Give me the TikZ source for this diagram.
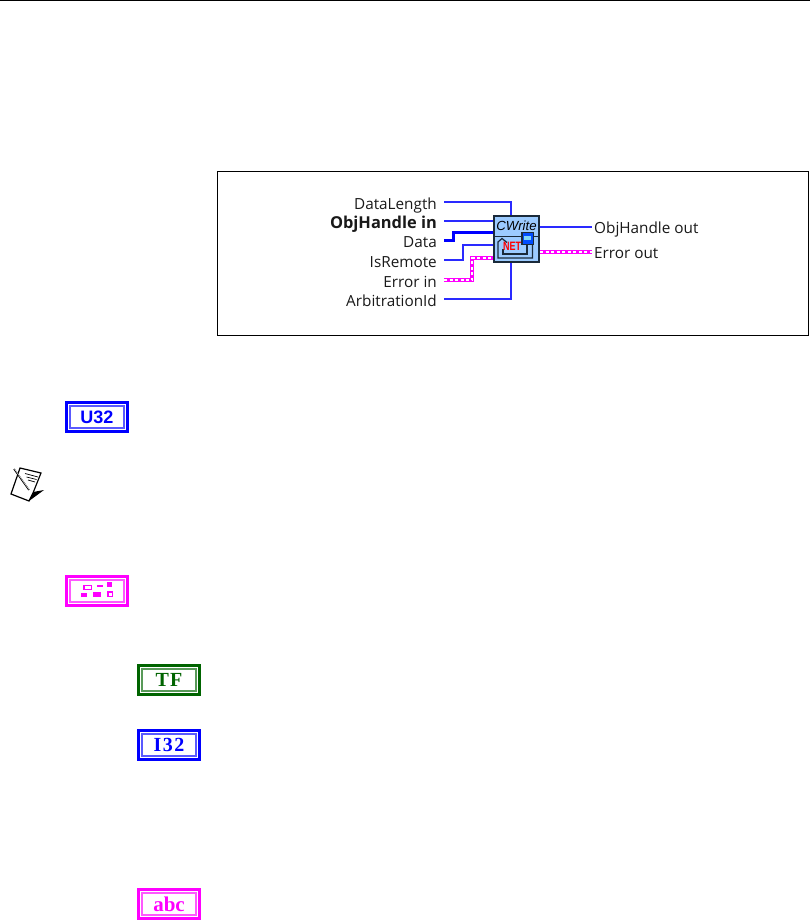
\documentclass[tikz,border=0pt]{standalone}
\usepackage{fontspec}
\setmainfont{Open Sans}
\newfontfamily\iconfont{Liberation Serif}
\newfontfamily\iconsans{Liberation Sans}
\definecolor{wireblue}{HTML}{2A2AFF}
\definecolor{pinkw}{HTML}{FF00FF}
\definecolor{tfgreen}{HTML}{006400}
\definecolor{vifill}{HTML}{9CCBFF}
\definecolor{vidark}{HTML}{1A2A3A}
\tikzset{
  x=1pt,y=-1pt,
  lbl/.style={font=\fontsize{15.3}{16}\selectfont,text=black!90,inner xsep=7pt,inner ysep=0pt,text height=15pt,text depth=0pt},
  inlbl/.style={lbl,anchor=east},
  outlbl/.style={lbl,anchor=west,inner xsep=2pt,text height=13pt},
  bluew/.style={draw=wireblue,line width=1.3pt},
  thickw/.style={draw=blue,line width=3pt},
  pinkbase/.style={draw=pinkw,line width=4.4pt},
  pinkdots/.style={draw=white,line width=1.5pt,dash pattern=on 3pt off 2.5pt},
  icon/.style={draw=#1,line width=3pt,fill=white,minimum width=61pt,minimum height=29pt,inner sep=0pt,text=#1},
  iconin/.style={draw=#1!65,line width=1.2pt},
  vibox/.style={draw=vidark,line width=1.6pt,fill=vifill,minimum width=45.5pt,minimum height=46.5pt,inner sep=0pt},
}
\newcommand{\dtype}[6]{% name, x, y, colour, font, text
  \node[icon=#4] (#1) at (#2,#3) {#5#6};
  \draw[iconin=#4] ([xshift=5pt,yshift=-5pt]#1.north west) rectangle ([xshift=-5pt,yshift=5pt]#1.south east);
}
\begin{document}
\begin{tikzpicture}
\useasboundingbox (0,0) rectangle (810,920);
\fill[white] (0,0) rectangle (810,920);
\coordinate (rl) at (0,0.6);
\coordinate (rr) at (810,0.6);
\draw[black,line width=1.1pt] (rl) -- (rr);
\node[draw=black,line width=0.8pt,minimum width=591pt,minimum height=164pt,inner sep=0pt,anchor=north west] (frame) at (216.8,170.8) {};
% wires first, box over them
\node[inlbl] (a) at (444,202) {DataLength};
\node[inlbl,font=\bfseries\fontsize{16.4}{17}\selectfont] (b) at (444,221) {ObjHandle in};
\node[inlbl] (c) at (444,240) {Data};
\node[inlbl] (d) at (444,260) {IsRemote};
\node[inlbl] (e) at (444,280) {Error in};
\node[inlbl] (f) at (444,299) {ArbitrationId};
\node[outlbl] (g) at (592,227) {ObjHandle out};
\node[outlbl] (h) at (592,252) {Error out};
\node[vibox] (vi) at (516.5,239) {};
\coordinate (tp) at (511,215);
\coordinate (bt) at (511,263);
\draw[bluew] (a.east) -| (tp);
\draw[bluew] (b.east) -- (b.east -| vi.west);
\coordinate (c1) at (453,232);
\draw[thickw] (c.east) -| (c1) -- (c1 -| vi.west);
\coordinate (d1) at (463,245);
\draw[bluew] (d.east) -| (d1) -- (d1 -| vi.west);
\draw[bluew] (f.east) -| (bt);
\coordinate (e1) at (472,258);
\draw[pinkbase] (e.east) -| (e1) -- (e1 -| vi.west);
\draw[pinkdots] (e.east) -| (e1) -- (e1 -| vi.west);
\draw[bluew] (vi.east |- g.west) -- (g.west);
\draw[pinkbase] (vi.east |- h.west) -- (h.west);
\draw[pinkdots] (vi.east |- h.west) -- (h.west);
% box contents
\coordinate (divL) at (493,236.5);
\coordinate (divR) at (540,236.5);
\draw[vidark,line width=1.1pt] (divL) -- (divR);
\node[inner sep=0pt,font=\iconsans\itshape\fontsize{13.2}{14}\selectfont,text=black] (cw) at (516.5,226) {CWrite};
\draw[vidark,line width=1.2pt] (532.5,245) -- (532.5,258) -- (498,258) -- (498,242) -- (502,238.5) -- (507,242.5);
\draw[vidark,line width=1.2pt] (527,245) -- (527,254) -- (503,254) -- (503,249);
\node[draw=vidark,line width=1.5pt,fill=blue!70!cyan,minimum width=11.5pt,minimum height=12pt,inner sep=0pt] (sq) at (527.5,238.5) {};
\fill[cyan!50] (524,235.5) rectangle (531,239.5);
\node[inner sep=0pt,yscale=1.35,font=\iconsans\bfseries\fontsize{9}{9}\selectfont,text=red] (net) at (512,246.5) {NET};
% data type icons
\dtype{u}{97}{417}{blue}{\iconsans\bfseries\fontsize{18}{18}\selectfont}{U32}
\dtype{cl}{97}{591}{pinkw}{}{}
\dtype{tf}{169}{680}{tfgreen}{\iconfont\bfseries\fontsize{20}{20}\selectfont\addfontfeature{LetterSpace=6}}{TF}
\dtype{i}{169}{745}{blue}{\iconfont\bfseries\fontsize{20}{20}\selectfont\addfontfeature{LetterSpace=8}}{I32}
\dtype{abc}{169}{904}{pinkw}{\iconfont\bfseries\fontsize{21}{21}\selectfont}{abc}
% cluster glyphs
\draw[pinkw,line width=1.4pt] (84,585.5) rectangle (91.5,589.5);
\fill[pinkw] (96.7,585) rectangle (103.3,586.5);
\fill[pinkw] (107.3,582.3) rectangle (111.7,586.7);
\fill[pinkw] (80.7,593.3) rectangle (86.7,597);
\fill[pinkw] (92.7,591.7) rectangle (100.7,597);
\draw[pinkw,line width=1.4pt] (108,592) rectangle (112.6,596.5);
% note icon
\fill[black] (29,501) -- (33,492) -- (44,490) -- cycle;
\draw[black,line width=1.2pt,fill=white] (20,468) -- (41,473) -- (33,493) -- (29,501) -- (11,494) -- cycle;
\draw[black,line width=0.7pt] (25,473.5) -- (38,477) (26.5,477) -- (36.5,479.5) (28,480) -- (35,482);
\draw[black,line width=1.5pt] (14,469) -- (29,490);
\draw[white,line width=0.4pt] (14.5,469) -- (29,489.5);
\end{tikzpicture}
\end{document}
